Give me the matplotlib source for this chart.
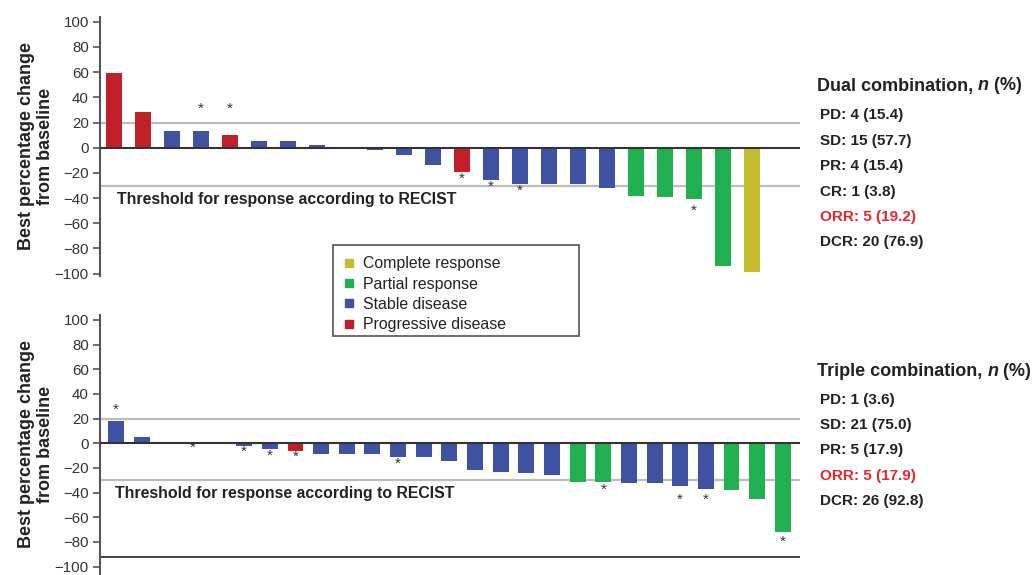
import numpy as np
import matplotlib
matplotlib.use("Agg")
import matplotlib.pyplot as plt
from matplotlib.lines import Line2D
from matplotlib.patches import Rectangle

plt.rcParams['font.family'] = ['Liberation Sans', 'DejaVu Sans']

COLORS = {'CR': '#c6be2e', 'PR': '#21b04f', 'SD': '#4052a2', 'PD': '#c1202a'}

# dual combination, best % change per patient (sorted as in the figure)
dual_values = [59, 28, 13, 13, 10, 5, 5, 2, 0, -2, -6, -13.5, -19, -26, -29,
               -29, -29, -32, -38, -39, -41, -94, -99]
dual_resp = ['PD', 'PD', 'SD', 'SD', 'PD', 'SD', 'SD', 'SD', 'SD', 'SD', 'SD',
             'SD', 'PD', 'SD', 'SD', 'SD', 'SD', 'SD', 'PR', 'PR', 'PR', 'PR', 'CR']
dual_star_idx = [3, 4, 12, 13, 14, 20]
dual_star_y = [31, 31, -25, -31, -34, -50]

# triple combination
triple_values = [18, 5, 1, 0, 0, -2, -5, -6, -8.5, -9, -9, -11.5, -11, -14,
                 -22, -23, -24.5, -25.5, -31, -31, -32, -32, -34.5, -37,
                 -37.5, -45, -72]
triple_resp = ['SD', 'SD', 'SD', 'SD', 'SD', 'SD', 'SD', 'PD', 'SD', 'SD', 'SD',
               'SD', 'SD', 'SD', 'SD', 'SD', 'SD', 'SD', 'PR', 'PR', 'SD', 'SD',
               'SD', 'SD', 'PR', 'PR', 'PR']
triple_star_idx = [0, 3, 5, 6, 7, 11, 19, 22, 23, 26]
triple_star_y = [27, -4, -7, -10, -11, -17, -38, -46, -46, -80]

dual_summary = ['PD: 4 (15.4)', 'SD: 15 (57.7)', 'PR: 4 (15.4)', 'CR: 1 (3.8)',
                'ORR: 5 (19.2)', 'DCR: 20 (76.9)']
triple_summary = ['PD: 1 (3.6)', 'SD: 21 (75.0)', 'PR: 5 (17.9)',
                  'ORR: 5 (17.9)', 'DCR: 26 (92.8)']

legend_labels = ['Complete response', 'Partial response', 'Stable disease',
                 'Progressive disease']
legend_keys = ['CR', 'PR', 'SD', 'PD']

W, H = 1034, 575
fig = plt.figure(figsize=(W / 100, H / 100), dpi=100)


def px_axes(left, top, right, bottom):
    return fig.add_axes([left / W, 1 - bottom / H, (right - left) / W, (bottom - top) / H])


def draw_panel(ax, values, resp, star_idx, star_y, xlim, ylim, width, label_x, bottom_line):
    x = np.arange(len(values))
    ax.bar(x, values, width=width, color=[COLORS[r] for r in resp], zorder=2)
    ax.axhline(20, color='#bdbdbd', lw=1.6, zorder=1)
    ax.axhline(-30, color='#bdbdbd', lw=1.6, zorder=1)
    ax.axhline(0, color='#333333', lw=1.5, zorder=3)
    if bottom_line is not None:
        ax.axhline(bottom_line, color='#333333', lw=1.3, zorder=1)
    for i, y in zip(star_idx, star_y):
        ax.text(i, y, '*', ha='center', va='center', fontsize=11, color='#333333')
    ax.text(label_x, -40.8, 'Threshold for response according to RECIST',
            fontsize=11.4, fontweight='bold', color='#222222', ha='left', va='center')
    ax.set_xlim(*xlim)
    ax.set_ylim(*ylim)
    ax.set_yticks(np.arange(-100, 101, 20))
    ax.set_xticks([])
    for s in ['top', 'right', 'bottom']:
        ax.spines[s].set_visible(False)
    ax.spines['left'].set_color('#555555')
    ax.spines['left'].set_linewidth(1.5)
    ax.tick_params(axis='y', direction='out', length=5, width=1.2, color='#555555',
                   labelsize=10.8, labelcolor='#333333', pad=3)
    ax.set_ylabel('Best percentage change\nfrom baseline', fontsize=13,
                  fontweight='bold', color='#222222', linespacing=1.15)
    ax.yaxis.set_label_coords(-0.066, 0.5)


ax1 = px_axes(100, 16.7, 800, 276.2)
draw_panel(ax1, dual_values, dual_resp, dual_star_idx, dual_star_y,
           (-0.48, 23.66), (-102, 104), 0.55, 0.11, None)

ax2 = px_axes(100, 315, 800, 574)
draw_panel(ax2, triple_values, triple_resp, triple_star_idx, triple_star_y,
           (-0.62, 26.67), (-106, 104), 0.62, -0.04, -92.4)


def summary(ax, x, y_title, title, lines, ys):
    t1 = fig.text(x / W, 1 - y_title / H, title + ', ', fontsize=13, fontweight='bold',
                  color='#222222', ha='left', va='center')
    a2 = ax.annotate('n', xy=(1, 0), xycoords=t1, fontsize=13, fontweight='bold',
                     style='italic', color='#222222', ha='left', va='bottom',
                     annotation_clip=False)
    ax.annotate(' (%)', xy=(1, 0), xycoords=a2, fontsize=13, fontweight='bold',
                color='#222222', ha='left', va='bottom', annotation_clip=False)
    for txt, yy in zip(lines, ys):
        col = '#e8262c' if txt.startswith('ORR') else '#222222'
        fig.text((x + 3) / W, 1 - yy / H, txt, fontsize=11, fontweight='bold',
                 color=col, ha='left', va='center')


summary(ax1, 817, 86, 'Dual combination', dual_summary, [115, 141, 166, 192, 217, 242])
summary(ax2, 817, 371, 'Triple combination', triple_summary, [400, 425, 450, 476, 501])

# legend box drawn by hand so it keeps the wide frame of the original
fig.patches.append(Rectangle((333 / W, 1 - 336 / H), 246 / W, 91 / H,
                             transform=fig.transFigure, fill=True, facecolor='white',
                             edgecolor='#555555', linewidth=1.2, zorder=4))
handles = [Line2D([], [], marker='s', linestyle='none', markersize=6,
                  markerfacecolor=COLORS[k], markeredgecolor=COLORS[k]) for k in legend_keys]
leg = fig.legend(handles, legend_labels, loc='upper left',
                 bbox_to_anchor=(339 / W, 1 - 253 / H), fontsize=11.4,
                 frameon=False, handlelength=0.8, handletextpad=0.5,
                 labelspacing=0.34, borderpad=0.2, borderaxespad=0)
leg.set_zorder(5)
for t in leg.get_texts():
    t.set_color('#222222')

fig.savefig('out.png', dpi=100)
